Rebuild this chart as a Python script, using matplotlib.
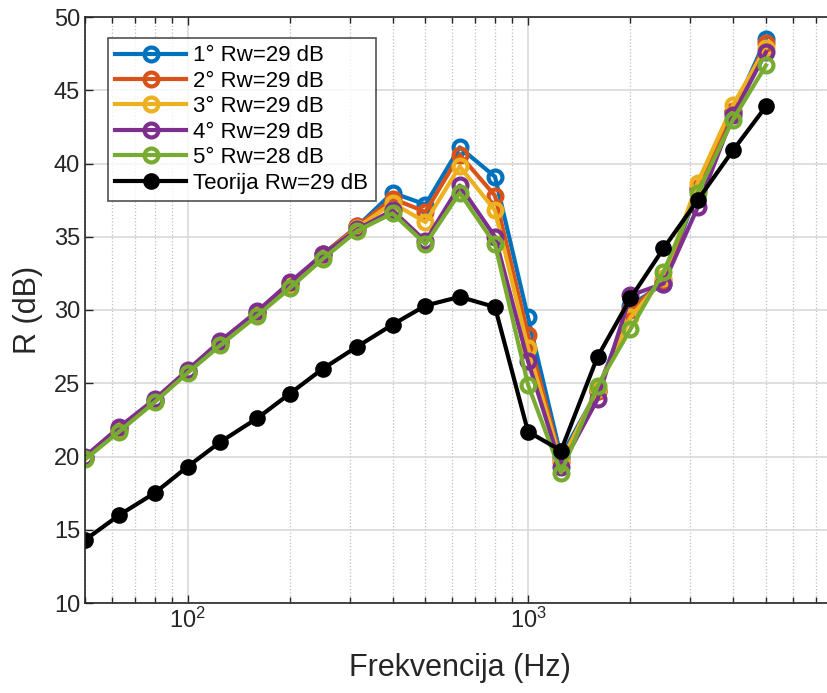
import matplotlib
matplotlib.use("Agg")
import matplotlib.pyplot as plt
from matplotlib.ticker import LogLocator, NullFormatter, FixedLocator

plt.rcParams['font.family'] = ['Liberation Sans', 'DejaVu Sans']

freq = [50, 63, 80, 100, 125, 160, 200, 250, 315, 400, 500, 630, 800,
        1000, 1250, 1600, 2000, 2500, 3150, 4000, 5000]

r1 = [19.9, 21.9, 23.8, 25.8, 27.8, 29.8, 31.8, 33.8, 35.7, 38.0, 37.2, 41.1, 39.1,
      29.5, 20.0, 24.5, 30.3, 31.8, 38.2, 43.5, 48.5]
r2 = [19.9, 21.9, 23.8, 25.8, 27.8, 29.8, 31.8, 33.8, 35.7, 37.6, 36.7, 40.6, 37.8,
      28.3, 19.7, 24.5, 30.0, 32.0, 38.3, 43.6, 48.2]
r3 = [19.9, 21.8, 23.8, 25.8, 27.7, 29.7, 31.7, 33.7, 35.6, 37.3, 36.0, 39.8, 36.8,
      27.4, 19.6, 24.6, 29.5, 32.2, 38.7, 44.0, 47.9]
r4 = [20.0, 22.0, 23.9, 25.9, 27.9, 29.9, 31.9, 33.8, 35.5, 36.8, 34.7, 38.5, 35.0,
      26.5, 19.3, 23.9, 31.0, 31.8, 37.0, 43.3, 47.6]
r5 = [19.8, 21.7, 23.7, 25.7, 27.6, 29.6, 31.5, 33.5, 35.4, 36.6, 34.5, 38.0, 34.5,
      24.9, 18.9, 24.8, 28.7, 32.6, 38.0, 43.0, 46.7]
rt = [14.3, 16.0, 17.5, 19.3, 21.0, 22.6, 24.3, 26.0, 27.5, 29.0, 30.3, 30.9, 30.2,
      21.7, 20.4, 26.8, 30.8, 34.2, 37.5, 40.9, 43.9]

labels = ['1° Rw=29 dB', '2° Rw=29 dB', '3° Rw=29 dB', '4° Rw=29 dB',
          '5° Rw=28 dB', 'Teorija Rw=29 dB']
colors = ['#0072BD', '#D95319', '#EDB120', '#7E2F8E', '#77AC30', '#000000']
series = [r1, r2, r3, r4, r5, rt]

fig = plt.figure(figsize=(8.28, 6.93), dpi=100)
ax = fig.add_axes([85/828, 1-603/693, (835.5-85)/828, (603-17)/693])

for s, c, lab in zip(series, colors, labels):
    if c == '#000000':
        ax.plot(freq, s, '-o', color=c, lw=3, ms=10, mfc=c, mec=c, mew=2, label=lab)
    else:
        ax.plot(freq, s, '-o', color=c, lw=3, ms=10, mfc='none', mec=c, mew=3, label=lab)

ax.set_xscale('log')
ax.set_xlim(50, 8000)
ax.set_ylim(10, 50)
ax.set_yticks(range(10, 51, 5))
ax.xaxis.set_major_locator(FixedLocator([100, 1000]))
ax.xaxis.set_minor_locator(LogLocator(base=10, subs=range(2, 10)))
ax.xaxis.set_minor_formatter(NullFormatter())

axcol = '#262626'
ax.grid(True, which='major', color='#d9d9d9', lw=1.2, ls='-')
ax.grid(True, which='minor', axis='x', color='#bfbfbf', lw=0.9, ls=':')
ax.set_axisbelow(True)
ax.tick_params(which='both', direction='in', top=True, right=True, colors=axcol,
               labelsize=17, length=6, width=1)
ax.tick_params(which='minor', length=4)
for sp in ax.spines.values():
    sp.set_color(axcol)
    sp.set_linewidth(1.2)

ax.set_xlabel('Frekvencija (Hz)', fontsize=22, color=axcol, labelpad=14)
ax.set_ylabel('R (dB)', fontsize=22, color=axcol, labelpad=8)

leg = ax.legend(loc='upper left', bbox_to_anchor=(0.03, 0.965), borderaxespad=0,
                fontsize=16, frameon=True, fancybox=False, edgecolor=axcol,
                handlelength=3.2, handletextpad=0.3, labelspacing=0.2,
                borderpad=0.35)
leg.get_frame().set_linewidth(1.2)
for t in leg.get_texts():
    t.set_color('#000000')

fig.savefig('out.png', dpi=100)
